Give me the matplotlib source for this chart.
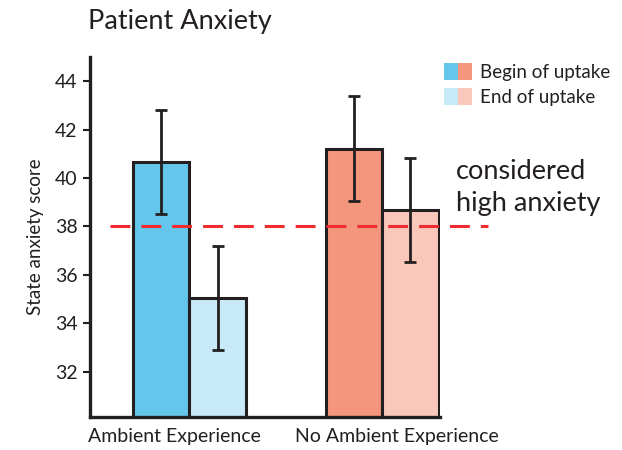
import matplotlib
matplotlib.use('Agg')
import matplotlib.pyplot as plt
from matplotlib.legend_handler import HandlerTuple
from matplotlib.patches import Patch

plt.rcParams['font.family'] = ['Lato', 'DejaVu Sans']

groups = ['Ambient Experience', 'No Ambient Experience']
phases = ['Begin of uptake', 'End of uptake']
means = [40.67, 35.02, 41.2, 38.68]
errors = [2.15, 2.15, 2.17, 2.15]
threshold = 38.0

colors = ['#65C6EC', '#C8E9F8', '#F4967E', '#F9C8BA']
edge = '#231F20'
bar_x = [1.26, 2.26, 4.67, 5.67]
label_x = [1.5, 5.43]

fig = plt.figure(figsize=(6.22, 4.5), dpi=100)
ax = fig.add_axes([90 / 622, 1 - 417 / 450, 350 / 622, 360 / 450])

ax.bar(bar_x, means, width=1.0, color=colors, edgecolor=edge, linewidth=2.2, zorder=2)
ax.errorbar(bar_x, means, yerr=errors, fmt='none', ecolor=edge, elinewidth=2.0,
            capsize=4.5, capthick=2.0, zorder=3)

ax.plot([0.35, 7.04], [threshold, threshold], color='#EE2B2F', lw=2.2,
        dashes=(6.5, 3.6), clip_on=False, zorder=4)
ax.text(6.48, 39.6, 'considered\nhigh anxiety', fontsize=19.5, color='#231F20',
        ha='left', va='center', linespacing=1.35)

ax.set_xlim(0, 350 / 56.5)
ax.set_ylim(30.12, 45.0)
ax.set_yticks([32, 34, 36, 38, 40, 42, 44])
ax.set_xticks(label_x)
ax.set_xticklabels(groups, fontsize=14, color='#231F20')
ax.tick_params(axis='x', length=0, pad=8)
ax.tick_params(axis='y', length=5, width=1.5, color=edge, labelsize=14,
               labelcolor='#231F20', pad=4)
ax.set_ylabel('State anxiety score', fontsize=13.5, color='#231F20', labelpad=8)

for s in ['top', 'right']:
    ax.spines[s].set_visible(False)
for s in ['left', 'bottom']:
    ax.spines[s].set_linewidth(2.4)
    ax.spines[s].set_color(edge)

fig.text(88 / 622, 1 - 22 / 450, 'Patient Anxiety', fontsize=19.5, color='#231F20',
         ha='left', va='center')

h1 = (Patch(facecolor=colors[0]), Patch(facecolor=colors[2]))
h2 = (Patch(facecolor=colors[1]), Patch(facecolor=colors[3]))
fig.legend([h1, h2], phases, handler_map={tuple: HandlerTuple(ndivide=None, pad=0)},
           loc='upper left', bbox_to_anchor=(427 / 622, 1 - 46 / 450), frameon=False,
           fontsize=13.5, handlelength=1.5, handleheight=1.0, handletextpad=0.4,
           labelspacing=0.4, labelcolor='#231F20')

fig.savefig('out.png', dpi=100)
